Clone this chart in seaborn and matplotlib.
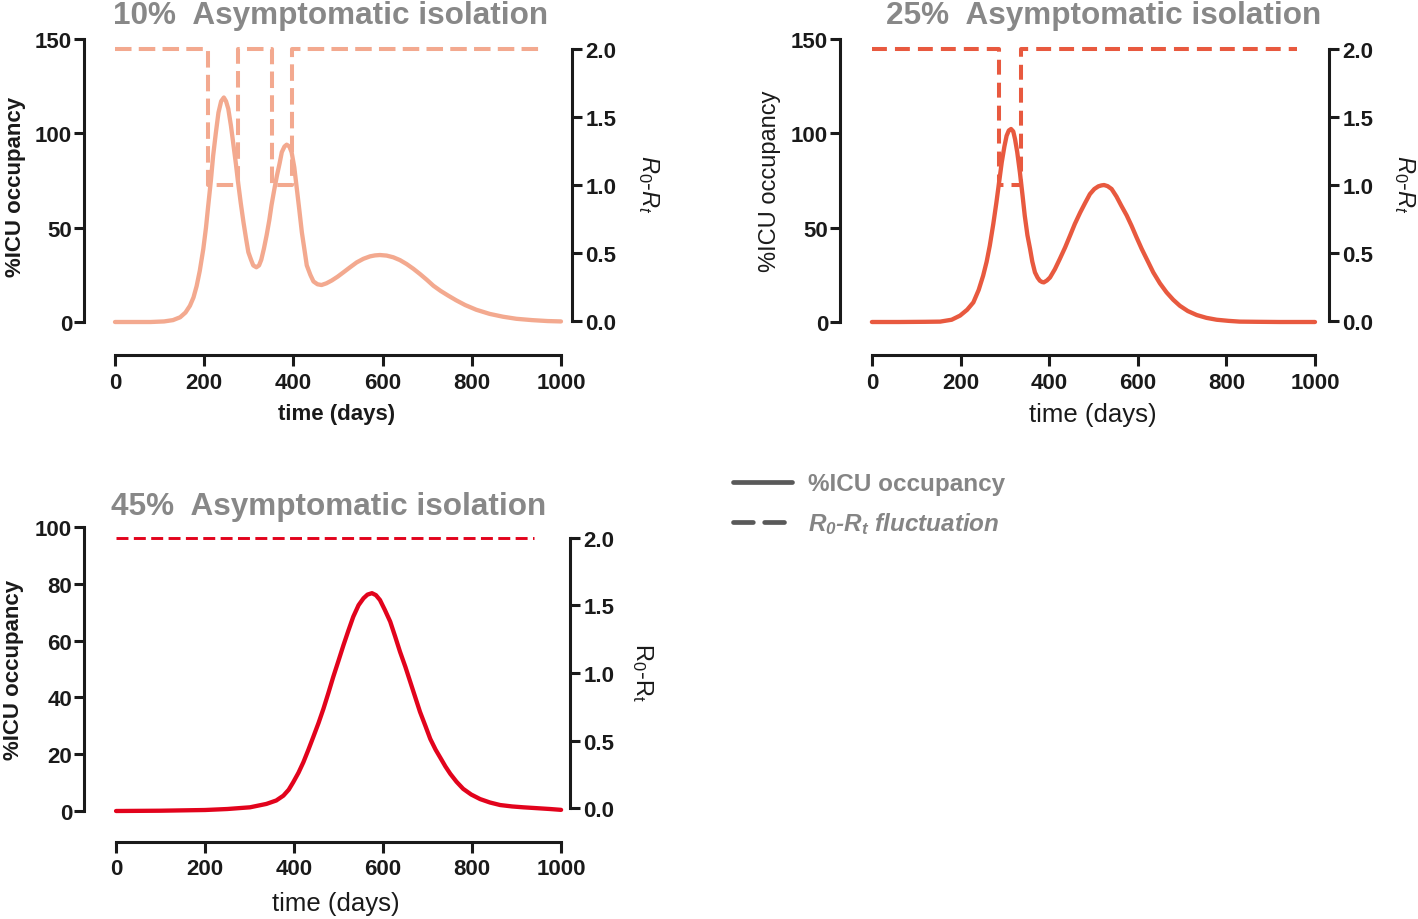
import matplotlib
matplotlib.use("Agg")
import matplotlib.pyplot as plt
from matplotlib.lines import Line2D
import seaborn as sns
import pandas as pd

# ---------------- data ----------------
titles = ["10%  Asymptomatic isolation", "25%  Asymptomatic isolation", "45%  Asymptomatic isolation"]

t_10 = [0, 40, 80, 110, 130, 146, 158, 168, 176, 183,
        190, 198, 204, 209, 215, 220, 226, 232, 238, 244,
        249, 254, 260, 265, 271, 276, 282, 288, 294, 299,
        305, 310, 317, 323, 328, 334, 340, 346, 351, 357,
        363, 369, 374, 380, 385, 391, 396, 402, 407, 413,
        419, 425, 430, 438, 445, 454, 463, 474, 486, 499,
        512, 527, 542, 557, 572, 583, 594, 609, 624, 639,
        654, 669, 684, 699, 714, 730, 747, 765, 785, 810,
        840, 870, 900, 935, 970, 1000]
icu_10 = [0, 0, 0, 0.3, 1, 2.5, 5, 8.6, 13, 19,
          27, 38.7, 50, 61.6, 75, 88, 100, 111, 117, 119,
          117, 113, 104, 95, 84, 74, 63, 53, 44, 37,
          33, 30, 29, 30, 33, 39, 46, 54, 62, 70,
          77.5, 84, 90, 93, 94, 93, 90, 82, 72, 60,
          47.5, 38, 30, 25, 21.5, 20, 19.6, 20.5, 22, 24,
          26.3, 29, 31.6, 33.5, 34.8, 35.3, 35.5, 35.2, 34.3, 32.8,
          30.7, 28.2, 25.4, 22.4, 19.2, 16.5, 14, 11.5, 9, 6.5,
          4.3, 2.8, 1.7, 1, 0.5, 0.3]

t_25 = [0, 60, 120, 154, 180, 199, 215, 229, 241, 251,
        259, 266, 274, 281, 287, 293, 299, 304, 309, 314,
        319, 323, 328, 334, 340, 345, 351, 357, 362, 368,
        374, 379, 384, 388, 395, 402, 413, 424, 436, 447,
        458, 470, 481, 492, 502, 511, 518, 524, 532, 541,
        552, 563, 575, 586, 597, 609, 622, 635, 650, 665,
        680, 695, 713, 733, 755, 778, 805, 830, 870, 920,
        1000]
icu_25 = [0, 0, 0.1, 0.2, 1.2, 3.4, 6.5, 10.4, 17, 24.5,
          32, 40.4, 52, 63.4, 74, 84.6, 93, 98.7, 101.5, 102.3,
          101, 97, 90, 79.3, 67, 56.3, 46, 38.7, 32, 26.3,
          23.5, 21.9, 21.2, 21, 22, 23.6, 28, 33.4, 39.5, 45.7,
          52, 58, 63, 67.8, 70.5, 71.9, 72.4, 72.6, 72, 70.5,
          66.5, 61.6, 56.5, 51, 45, 38.7, 32.5, 26.3, 20.5, 15.7,
          11.8, 8.6, 5.8, 3.7, 2.2, 1.2, 0.6, 0.2, 0.1, 0,
          0]

t_45 = [0, 100, 200, 250, 301, 338, 360, 376, 388, 398,
        410, 421, 432, 443, 455, 466, 477, 488, 500, 511,
        522, 533, 545, 556, 565, 575, 584, 593, 604, 616,
        627, 638, 650, 661, 672, 683, 695, 706, 718, 730,
        740, 751, 765, 780, 798, 818, 840, 863, 890, 915,
        945, 975, 1000]
icu_45 = [0, 0.1, 0.35, 0.7, 1.3, 2.5, 3.7, 5.4, 7.5, 10.1,
          13.5, 17.2, 21.5, 26, 31, 36, 41.5, 47.2, 53, 58.4,
          63.5, 68.4, 72.5, 74.9, 76.2, 76.7, 76, 74.3, 70.8, 66.7,
          61.5, 56.1, 50.8, 45.5, 40.2, 34.9, 30, 25.4, 21.6, 18.4,
          15.7, 13.1, 10.3, 7.8, 5.8, 4.2, 3, 2.1, 1.6, 1.3,
          1, 0.7, 0.4]

rt_t_10 = [0, 209, 209, 276, 276, 353, 353, 398, 398, 955]
rt_v_10 = [2, 2, 1, 1, 2, 2, 1, 1, 2, 2]
rt_t_25 = [0, 287, 287, 336, 336, 960]
rt_v_25 = [2, 2, 1, 1, 2, 2]
rt_t_45 = [0, 940]
rt_v_45 = [2, 2]

x_ticks = [0, 200, 400, 600, 800, 1000]
y_ticks_a = [0, 50, 100, 150]
y_ticks_b = [0, 20, 40, 60, 80, 100]
r_ticks = [0.0, 0.5, 1.0, 1.5, 2.0]

colors = ["#F3A98F", "#E8593F", "#E2031C"]

# ---------------- style ----------------
sns.set_style("ticks")
plt.rcParams["font.family"] = ["Liberation Sans", "DejaVu Sans"]
plt.rcParams["mathtext.fontset"] = "custom"
plt.rcParams["mathtext.rm"] = "Liberation Sans"
plt.rcParams["mathtext.it"] = "Liberation Sans:italic"
plt.rcParams["mathtext.bf"] = "Liberation Sans:bold"
plt.rcParams["mathtext.bfit"] = "Liberation Sans:italic:bold"
plt.rcParams["axes.linewidth"] = 2.2

W, H = 1418, 920
fig = plt.figure(figsize=(W / 100, H / 100), dpi=100)


def px_axes(left, right, top, bottom):
    return fig.add_axes([left / W, 1 - bottom / H, (right - left) / W, (bottom - top) / H])


panels = [
    dict(box=(84, 572, 40, 323), xlim=(-69.5, 1024.7), ylim=(0, 150), yt=y_ticks_a,
         rlim=(-0.007, 2.074), t=t_10, y=icu_10, rt=rt_t_10, rv=rt_v_10,
         dash=(4.1, 1.8), dlw=2.9, out=24,
         ylab=dict(size=16, weight="bold"), xlab=dict(size=16, weight="bold"),
         rlabel=r"$R_0$-$R_t$", title_xy=(113, 16), ylab_x=-0.141, rlab_x=1.156, ylab_y=0.48),
    dict(box=(840, 1329, 40, 323), xlim=(-72, 1031.6), ylim=(0, 150), yt=y_ticks_a,
         rlim=(-0.007, 2.074), t=t_25, y=icu_25, rt=rt_t_25, rv=rt_v_25,
         dash=(3.7, 2.0), dlw=2.9, out=24,
         ylab=dict(size=17, weight="normal"), xlab=dict(size=18.5, weight="normal"),
         rlabel=r"$R_0$-$R_t$", title_xy=(886, 16), ylab_x=-0.143, rlab_x=1.155, ylab_y=0.50),
    dict(box=(84, 570, 528, 812), xlim=(-72, 1020), ylim=(0, 100), yt=y_ticks_b,
         rlim=(-0.022, 2.081), t=t_45, y=icu_45, rt=rt_t_45, rv=rt_v_45,
         dash=(4.1, 1.85), dlw=2.1, out=22,
         ylab=dict(size=16, weight="bold"), xlab=dict(size=18.5, weight="normal"),
         rlabel=r"$\mathrm{R_0}$-$\mathrm{R_t}$", title_xy=(111, 507), ylab_x=-0.146, rlab_x=1.15, ylab_y=0.5),
]

for i, p in enumerate(panels):
    ax = px_axes(*p["box"])
    ax2 = ax.twinx()
    col = colors[i]

    df = pd.DataFrame({"time": p["t"], "icu": p["y"]})
    sns.lineplot(data=df, x="time", y="icu", ax=ax, color=col, lw=3.1, estimator=None, sort=False)
    dfr = pd.DataFrame({"time": p["rt"], "r": p["rv"]})
    sns.lineplot(data=dfr, x="time", y="r", ax=ax2, color=col, lw=p["dlw"], estimator=None, sort=False)
    for ln in ax.lines:
        ln.set_clip_on(False)
        ln.set_solid_joinstyle("round")
    for ln in ax2.lines:
        ln.set_clip_on(False)
        ln.set_dashes(p["dash"])

    ax.set_xlim(*p["xlim"])
    ax.set_ylim(*p["ylim"])
    ax2.set_ylim(*p["rlim"])
    ax.set_xticks(x_ticks)
    ax.set_yticks(p["yt"])
    ax2.set_yticks(r_ticks)
    ax2.set_yticklabels([f"{v:.1f}" for v in r_ticks])

    for s in ["top", "right"]:
        ax.spines[s].set_visible(False)
    for s in ["top", "left", "bottom"]:
        ax2.spines[s].set_visible(False)
    ax.spines["left"].set_bounds(p["ylim"][0], p["ylim"][1])
    ax.spines["bottom"].set_position(("outward", p["out"]))
    ax.spines["bottom"].set_bounds(0, 1000)
    ax2.spines["right"].set_bounds(0, 2)
    for sp in list(ax.spines.values()) + list(ax2.spines.values()):
        sp.set_linewidth(2.2)
        sp.set_color("#1a1a1a")

    ax.tick_params(axis="y", length=7, width=2.2, pad=1.5, labelsize=16, colors="#1a1a1a")
    ax.tick_params(axis="x", length=8, width=2.2, pad=4, labelsize=16, colors="#1a1a1a")
    ax2.tick_params(axis="y", length=7, width=2.2, pad=2.5, labelsize=16, colors="#1a1a1a")
    for lab in ax.get_xticklabels() + ax.get_yticklabels() + ax2.get_yticklabels():
        lab.set_fontweight("bold")

    ax.set_ylabel("%ICU occupancy", fontsize=p["ylab"]["size"], fontweight=p["ylab"]["weight"],
                  va="center", color="#1a1a1a")
    ax.yaxis.set_label_coords(p["ylab_x"], p["ylab_y"])
    ax.set_xlabel("time (days)", fontsize=p["xlab"]["size"], fontweight=p["xlab"]["weight"],
                  va="center", color="#1a1a1a")
    ax.xaxis.set_label_coords(0.518, -0.325)
    ax2.set_ylabel(p["rlabel"], fontsize=17, rotation=270, va="center", color="#1a1a1a")
    ax2.yaxis.set_label_coords(p["rlab_x"], 0.49)

    tx, ty = p["title_xy"]
    fig.text(tx / W, 1 - ty / H, titles[i], fontsize=22.7, fontweight="bold", color="#888888",
             ha="left", va="center")

# ---------------- legend ----------------
handles = [
    Line2D([], [], color="#595959", lw=3.4, solid_capstyle="round"),
    Line2D([], [], color="#595959", lw=3.4, dash_capstyle="round", dashes=(4.2, 2.4)),
]
labels = ["%ICU occupancy", r"$\mathbfit{R_0}$-$\mathbfit{R_t}$ fluctuation"]
leg = fig.legend(handles, labels, loc="center left", bbox_to_anchor=(733 / W, 1 - 505 / H),
                 frameon=False, handlelength=2.43, handletextpad=0.66, labelspacing=0.62,
                 borderpad=0, borderaxespad=0, prop={"size": 17.5, "weight": "bold"})
for txt in leg.get_texts():
    txt.set_color("#858585")
leg.get_texts()[1].set_fontstyle("italic")

fig.savefig("out.png", dpi=100)
